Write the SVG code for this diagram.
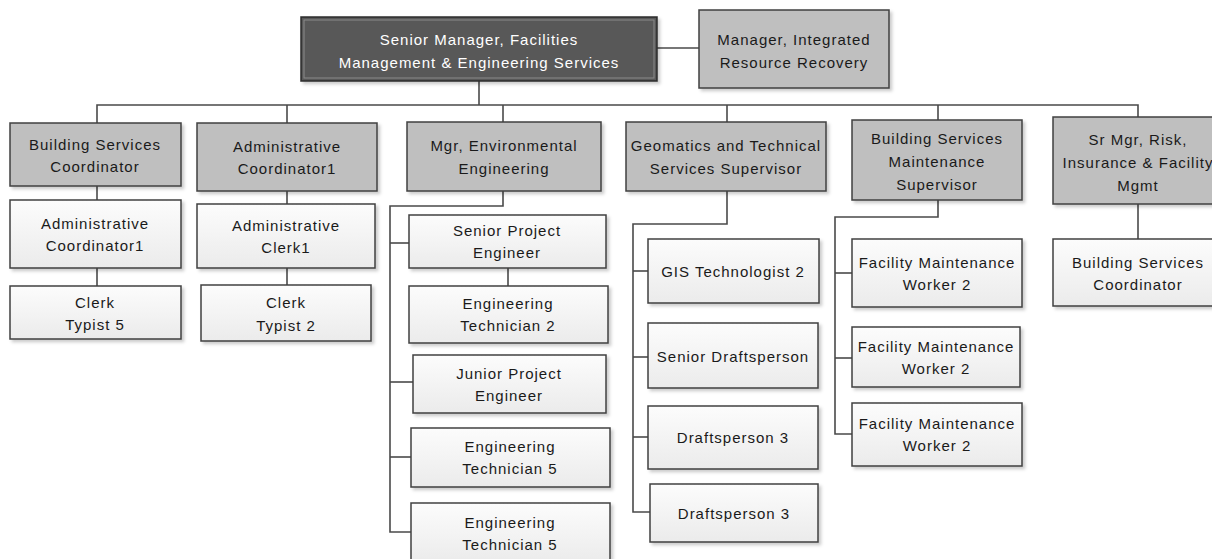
<svg xmlns="http://www.w3.org/2000/svg" width="1212" height="559" viewBox="0 0 1212 559">
  <defs>
    <linearGradient id="leafFill" x1="0" y1="0" x2="0" y2="1">
      <stop offset="0" stop-color="#fcfcfc"/>
      <stop offset="1" stop-color="#ebebeb"/>
    </linearGradient>
    <filter id="shadow" x="-10%" y="-10%" width="130%" height="140%">
      <feDropShadow dx="2.5" dy="2.5" stdDeviation="1.5" flood-color="#000" flood-opacity="0.2"/>
    </filter>
  </defs>
  <style>
    .box { stroke: #404040; stroke-width: 1.5; filter: url(#shadow); }
    .head { fill: #bfbfbf; }
    .leaf { fill: url(#leafFill); }
    .topbox { fill: #595959; stroke: #2b2b2b; stroke-width: 1.5; filter: url(#shadow); }
    .topinner { fill: none; stroke: #8a8a8a; stroke-width: 1; }
    .t { font-family: "Liberation Sans", Arial, sans-serif; font-size: 15px; letter-spacing: 1px; fill: #1a1a1a; text-anchor: middle; dominant-baseline: central; }
    .tw { fill: #ffffff; }
    .link { fill: none; stroke: #4a4a4a; stroke-width: 1.6; }
  </style>

  <!-- connectors -->
  <g id="connectors" class="link">
    <path d="M657 48 H699"/>
    <path d="M479 81 V105"/>
    <path d="M97 123 V105 H1138 V117"/>
    <path d="M287 105 V123"/>
    <path d="M503 105 V122"/>
    <path d="M727 105 V122"/>
    <path d="M938 105 V120"/>
    <!-- column 1 -->
    <path d="M97 186 V200"/>
    <path d="M97 268 V286"/>
    <!-- column 2 -->
    <path d="M287 191 V204"/>
    <path d="M287 268 V285"/>
    <!-- environmental engineering -->
    <path d="M503 191 V206 H390 V532 H411"/>
    <path d="M390 243 H409"/>
    <path d="M390 382 H413"/>
    <path d="M390 457 H411"/>
    <path d="M508 268 V286"/>
    <!-- geomatics -->
    <path d="M727 191 V224 H633 V512 H650"/>
    <path d="M633 271 H648"/>
    <path d="M633 357 H648"/>
    <path d="M633 437 H648"/>
    <!-- building maintenance -->
    <path d="M938 200 V217 H835 V434 H852"/>
    <path d="M835 273 H852"/>
    <path d="M835 358 H852"/>
    <!-- risk -->
    <path d="M1138 204 V239"/>
  </g>

  <!-- top level -->
  <g id="senior-manager">
    <rect class="topbox" x="301" y="17" width="356" height="64"/>
    <rect class="topinner" x="304" y="20" width="350" height="58"/>
    <text class="t tw" x="479" y="39">Senior Manager, Facilities</text>
    <text class="t tw" x="479" y="62">Management &amp; Engineering Services</text>
  </g>
  <g id="manager-irr">
    <rect class="box head" x="699" y="10" width="190" height="78"/>
    <text class="t" x="794" y="39">Manager, Integrated</text>
    <text class="t" x="794" y="62">Resource Recovery</text>
  </g>

  <!-- column heads -->
  <g id="building-services-coordinator">
    <rect class="box head" x="10" y="123" width="171" height="63"/>
    <text class="t" x="95" y="144">Building Services</text>
    <text class="t" x="95" y="166">Coordinator</text>
  </g>
  <g id="administrative-coordinator-head">
    <rect class="box head" x="197" y="123" width="180" height="68"/>
    <text class="t" x="287" y="146">Administrative</text>
    <text class="t" x="287" y="168">Coordinator1</text>
  </g>
  <g id="mgr-environmental">
    <rect class="box head" x="407" y="122" width="194" height="69"/>
    <text class="t" x="504" y="145">Mgr, Environmental</text>
    <text class="t" x="504" y="168">Engineering</text>
  </g>
  <g id="geomatics-supervisor">
    <rect class="box head" x="626" y="122" width="200" height="69"/>
    <text class="t" x="726" y="145">Geomatics and Technical</text>
    <text class="t" x="726" y="168">Services Supervisor</text>
  </g>
  <g id="maintenance-supervisor">
    <rect class="box head" x="852" y="120" width="170" height="80"/>
    <text class="t" x="937" y="138">Building Services</text>
    <text class="t" x="937" y="161">Maintenance</text>
    <text class="t" x="937" y="184">Supervisor</text>
  </g>
  <g id="sr-mgr-risk">
    <rect class="box head" x="1053" y="117" width="170" height="87"/>
    <text class="t" x="1138" y="139">Sr Mgr, Risk,</text>
    <text class="t" x="1138" y="162">Insurance &amp; Facility</text>
    <text class="t" x="1138" y="185">Mgmt</text>
  </g>

  <!-- column 1 -->
  <g id="administrative-coordinator">
    <rect class="box leaf" x="10" y="200" width="171" height="68"/>
    <text class="t" x="95" y="223">Administrative</text>
    <text class="t" x="95" y="245">Coordinator1</text>
  </g>
  <g id="clerk-typist-5">
    <rect class="box leaf" x="10" y="286" width="171" height="53"/>
    <text class="t" x="95" y="302">Clerk</text>
    <text class="t" x="95" y="324">Typist 5</text>
  </g>

  <!-- column 2 -->
  <g id="administrative-clerk">
    <rect class="box leaf" x="197" y="204" width="178" height="64"/>
    <text class="t" x="286" y="225">Administrative</text>
    <text class="t" x="286" y="247">Clerk1</text>
  </g>
  <g id="clerk-typist-2">
    <rect class="box leaf" x="201" y="285" width="170" height="56"/>
    <text class="t" x="286" y="302">Clerk</text>
    <text class="t" x="286" y="325">Typist 2</text>
  </g>

  <!-- environmental engineering -->
  <g id="senior-project-engineer">
    <rect class="box leaf" x="409" y="215" width="197" height="53"/>
    <text class="t" x="507" y="230">Senior Project</text>
    <text class="t" x="507" y="252">Engineer</text>
  </g>
  <g id="engineering-technician-2">
    <rect class="box leaf" x="409" y="286" width="199" height="57"/>
    <text class="t" x="508" y="303">Engineering</text>
    <text class="t" x="508" y="325">Technician 2</text>
  </g>
  <g id="junior-project-engineer">
    <rect class="box leaf" x="413" y="355" width="193" height="58"/>
    <text class="t" x="509" y="373">Junior Project</text>
    <text class="t" x="509" y="395">Engineer</text>
  </g>
  <g id="engineering-technician-5a">
    <rect class="box leaf" x="411" y="428" width="199" height="59"/>
    <text class="t" x="510" y="446">Engineering</text>
    <text class="t" x="510" y="468">Technician 5</text>
  </g>
  <g id="engineering-technician-5b">
    <rect class="box leaf" x="411" y="503" width="199" height="60"/>
    <text class="t" x="510" y="522">Engineering</text>
    <text class="t" x="510" y="544">Technician 5</text>
  </g>

  <!-- geomatics -->
  <g id="gis-technologist-2">
    <rect class="box leaf" x="648" y="239" width="171" height="64"/>
    <text class="t" x="733" y="271">GIS Technologist 2</text>
  </g>
  <g id="senior-draftsperson">
    <rect class="box leaf" x="648" y="323" width="170" height="65"/>
    <text class="t" x="733" y="356">Senior Draftsperson</text>
  </g>
  <g id="draftsperson-3a">
    <rect class="box leaf" x="648" y="406" width="170" height="63"/>
    <text class="t" x="733" y="437">Draftsperson 3</text>
  </g>
  <g id="draftsperson-3b">
    <rect class="box leaf" x="650" y="484" width="168" height="58"/>
    <text class="t" x="734" y="513">Draftsperson 3</text>
  </g>

  <!-- building maintenance -->
  <g id="facility-maintenance-worker-a">
    <rect class="box leaf" x="852" y="239" width="170" height="68"/>
    <text class="t" x="937" y="262">Facility Maintenance</text>
    <text class="t" x="937" y="284">Worker 2</text>
  </g>
  <g id="facility-maintenance-worker-b">
    <rect class="box leaf" x="852" y="327" width="168" height="60"/>
    <text class="t" x="936" y="346">Facility Maintenance</text>
    <text class="t" x="936" y="368">Worker 2</text>
  </g>
  <g id="facility-maintenance-worker-c">
    <rect class="box leaf" x="852" y="403" width="170" height="63"/>
    <text class="t" x="937" y="423">Facility Maintenance</text>
    <text class="t" x="937" y="445">Worker 2</text>
  </g>

  <!-- risk -->
  <g id="building-services-coordinator-risk">
    <rect class="box leaf" x="1053" y="239" width="170" height="67"/>
    <text class="t" x="1138" y="262">Building Services</text>
    <text class="t" x="1138" y="284">Coordinator</text>
  </g>
</svg>
